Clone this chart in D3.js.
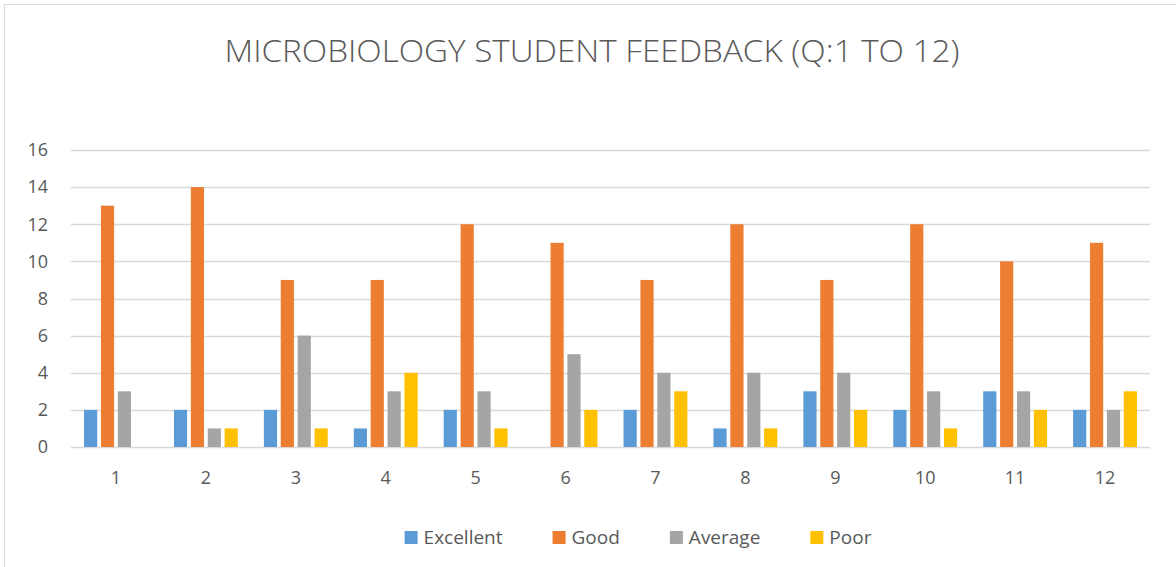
<!DOCTYPE html>
<html>
<head>
<meta charset="utf-8">
<script src="https://cdn.jsdelivr.net/npm/d3@7"></script>
<style>
  body { margin: 0; background: #fff; }
  svg { display: block; font-family: "Open Sans", sans-serif; }
</style>
</head>
<body>
<div id="chart"></div>
<script>
// feedback counts per question
const questions = ["1", "2", "3", "4", "5", "6", "7", "8", "9", "10", "11", "12"];
const seriesNames = ["Excellent", "Good", "Average", "Poor"];
const excellent = [2, 2, 2, 1, 2, 0, 2, 1, 3, 2, 3, 2];
const good = [13, 14, 9, 9, 12, 11, 9, 12, 9, 12, 10, 11];
const average = [3, 1, 6, 3, 3, 5, 4, 4, 4, 3, 3, 2];
const poor = [0, 1, 1, 4, 1, 2, 3, 1, 2, 1, 2, 3];
const yTicks = [0, 2, 4, 6, 8, 10, 12, 14, 16];
const colors = ["#5B9BD5", "#ED7D31", "#A5A5A5", "#FFC000"];

const width = 1176, height = 567;
const margin = {top: 150, right: 26, bottom: 120, left: 71};

const rows = questions.map((q, i) => ({
    q: q,
    values: [excellent[i], good[i], average[i], poor[i]]
}));

const svg = d3.select("#chart").append("svg")
    .attr("width", width)
    .attr("height", height);

// chart frame
svg.append("rect")
    .attr("x", 4.5).attr("y", 4.5)
    .attr("width", width + 10).attr("height", height + 10)
    .attr("fill", "none")
    .attr("stroke", "#D9D9D9");

svg.append("text")
    .attr("x", 592).attr("y", 62)
    .attr("text-anchor", "middle")
    .attr("fill", "#595959")
    .attr("font-size", 31)
    .attr("font-weight", 300)
    .attr("textLength", 735)
    .attr("lengthAdjust", "spacingAndGlyphs")
    .text("MICROBIOLOGY STUDENT FEEDBACK (Q:1 TO 12)");

const x0 = d3.scaleBand()
    .domain(questions)
    .range([margin.left, width - margin.right])
    .padding(0);

const inset = x0.bandwidth() * 0.145;
const x1 = d3.scaleBand()
    .domain(d3.range(seriesNames.length))
    .range([inset, x0.bandwidth() - inset])
    .paddingInner(0.22);

const y = d3.scaleLinear()
    .domain([0, 16])
    .range([height - margin.bottom + 0, margin.top]);

// gridlines
svg.append("g")
    .selectAll("line")
    .data(yTicks)
    .join("line")
    .attr("x1", margin.left).attr("x2", width - margin.right)
    .attr("y1", d => Math.round(y(d)) + 0.5)
    .attr("y2", d => Math.round(y(d)) + 0.5)
    .attr("stroke", "#D9D9D9")
    .attr("stroke-width", 1.5);

// y labels
svg.append("g")
    .selectAll("text")
    .data(yTicks)
    .join("text")
    .attr("x", 48)
    .attr("y", d => y(d))
    .attr("dy", "0.35em")
    .attr("text-anchor", "end")
    .attr("fill", "#595959")
    .attr("font-size", 18)
    .text(d => d);

// bars
const groups = svg.append("g")
    .selectAll("g")
    .data(rows)
    .join("g")
    .attr("transform", d => `translate(${x0(d.q)},0)`);

groups.selectAll("rect")
    .data(d => d.values.map((v, i) => ({v: v, i: i})))
    .join("rect")
    .attr("x", d => x1(d.i))
    .attr("width", x1.bandwidth())
    .attr("y", d => y(d.v))
    .attr("height", d => y(0) - y(d.v))
    .attr("fill", d => colors[d.i]);

// x labels
svg.append("g")
    .selectAll("text")
    .data(questions)
    .join("text")
    .attr("x", d => x0(d) + x0.bandwidth() / 2)
    .attr("y", 478)
    .attr("dy", "0.35em")
    .attr("text-anchor", "middle")
    .attr("fill", "#595959")
    .attr("font-size", 18)
    .text(d => d);

// legend
const legend = svg.append("g");
const items = legend.selectAll("g")
    .data(seriesNames)
    .join("g");
items.append("rect")
    .attr("width", 13).attr("height", 13)
    .attr("y", 531)
    .attr("fill", (d, i) => colors[i]);
items.append("text")
    .attr("x", 19)
    .attr("y", 537)
    .attr("dy", "0.35em")
    .attr("fill", "#595959")
    .attr("font-size", 19)
    .text(d => d);

let offsets = [], cur = 0;
items.each(function () {
    const w = d3.select(this).select("text").node().getComputedTextLength();
    offsets.push(cur);
    cur += 19 + w + 50;
});
const total = cur - 50;
const start = width / 2 + 50 - total / 2;
items.attr("transform", (d, i) => `translate(${start + offsets[i]},0)`);
</script>
</body>
</html>
